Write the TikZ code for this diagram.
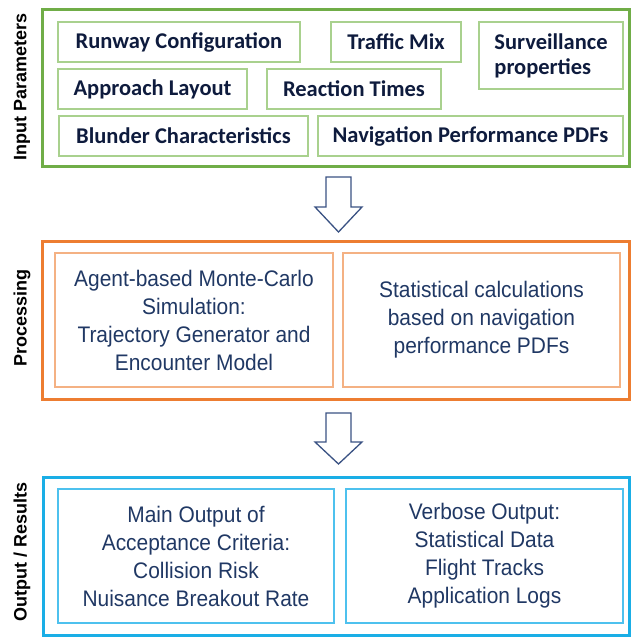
\documentclass[tikz,border=0pt]{standalone}
\usepackage{fontspec}
\setmainfont{Carlito}
\newfontfamily\labelfont{Liberation Sans}
\newfontfamily\narrowfont[FakeStretch=0.93]{Liberation Sans}
\usepackage{tikz}
\usetikzlibrary{positioning}
\usepackage{xcolor}
\definecolor{grnout}{HTML}{70AD47}
\definecolor{grnin}{HTML}{A9D18E}
\definecolor{orgout}{HTML}{ED7D31}
\definecolor{orgin}{HTML}{F4B183}
\definecolor{bluout}{HTML}{1AAEE6}
\definecolor{bluin}{HTML}{4EC1EE}
\definecolor{darknavy}{HTML}{0E1B3D}
\definecolor{navy}{HTML}{203864}
\definecolor{arrline}{HTML}{3A5283}

\begin{document}
\begin{tikzpicture}[x=1pt,y=-1pt,
  group/.style={draw,line width=3pt,inner sep=0pt},
  parbox/.style={draw=grnin,line width=1.6pt,inner sep=0pt,text=darknavy,
    font=\fontsize{22.5}{25}\selectfont\bfseries},
  procbox/.style={line width=1.6pt,inner sep=0pt,text=navy,align=center,
    font=\narrowfont\fontsize{22.5}{28}\selectfont},
  sidelabel/.style={rotate=90,font=\labelfont\fontsize{18}{20}\selectfont\bfseries,text=black},
  blockarrow/.style={draw=arrline,line width=1.3pt,fill=white,line join=miter}]
\useasboundingbox (0,0) rectangle (630,637);

% input parameters
\node[group,draw=grnout,minimum width=587,minimum height=157] (input) at (335.5,87.5) {};
\node[sidelabel] (inlabel) at (22,87) {Input Parameters};
\node[parbox,minimum width=242,minimum height=40] (runway) at (179,42) {Runway Configuration};
\node[parbox,minimum width=130,minimum height=40] (traffic) at (396,42) {Traffic Mix};
\node[parbox,minimum width=144,minimum height=67,align=left] (surv) at (551,55.5) {Surveillance\\properties};
\node[parbox,minimum width=189,minimum height=40] (approach) at (152.5,89) {Approach Layout};
\node[parbox,minimum width=174,minimum height=40] (reaction) at (354,89) {Reaction Times};
\node[parbox,minimum width=249,minimum height=40] (blunder) at (183.5,136) {Blunder Characteristics};
\node[parbox,minimum width=305,minimum height=40] (navperf) at (470.5,136) {Navigation Performance PDFs};

\draw[blockarrow] (326,177) -- (351,177) -- (351,207) -- (362,207) -- (338.5,232)
  -- (315,207) -- (326,207) -- cycle;

% processing
\node[group,draw=orgout,minimum width=587,minimum height=158] (proc) at (335.5,320) {};
\node[sidelabel] (proclabel) at (22,318) {Processing};
\node[procbox,draw=orgin,minimum width=278,minimum height=134] (agent) at (194,320)
  {Agent-based Monte-Carlo\\Simulation:\\Trajectory Generator and\\Encounter Model};
\node[procbox,draw=orgin,minimum width=277,minimum height=134] (stats) at (481.5,320)
  {Statistical calculations\\based on navigation\\performance PDFs};

\draw[blockarrow] (326,413) -- (351,413) -- (351,442) -- (362,442) -- (338.5,464)
  -- (315,442) -- (326,442) -- cycle;

% output / results
\node[group,draw=bluout,minimum width=586,minimum height=158] (result) at (336,556) {};
\node[sidelabel] (reslabel) at (22,552) {Output / Results};
\node[procbox,draw=bluin,minimum width=276,minimum height=134] (mainout) at (196,556)
  {Main Output of\\Acceptance Criteria:\\Collision Risk\\Nuisance Breakout Rate};
\node[procbox,draw=bluin,minimum width=277,minimum height=134] (verbose) at (484.5,556)
  {Verbose Output:\\Statistical Data\\Flight Tracks\\Application Logs};
\end{tikzpicture}
\end{document}
